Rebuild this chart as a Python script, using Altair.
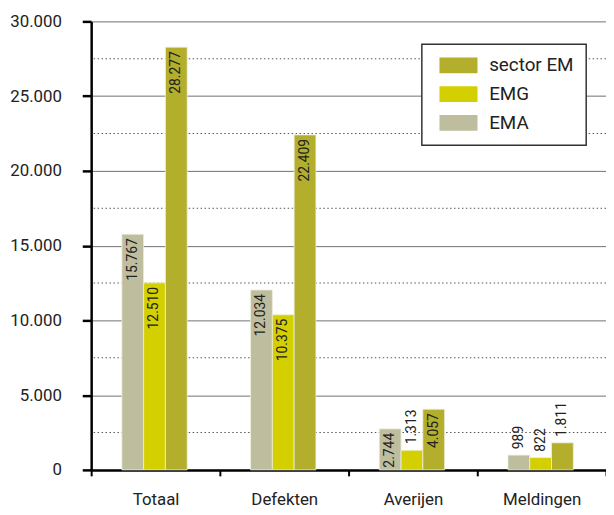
import altair as alt
import pandas as pd

categories = ["Totaal", "Defekten", "Averijen", "Meldingen"]
series = ["EMA", "EMG", "sector EM"]
ema = [15767, 12034, 2744, 989]
emg = [12510, 10375, 1313, 822]
sector_em = [28277, 22409, 4057, 1811]
y_ticks = [0, 5000, 10000, 15000, 20000, 25000, 30000]
minor_grid = [2500, 7500, 12500, 17500, 22500, 27500]
legend_order = ["sector EM", "EMG", "EMA"]
colors = ["#b3ae2c", "#d4cf00", "#bebe9f"]

rows = []
for s, vals in zip(series, [ema, emg, sector_em]):
    for c, v in zip(categories, vals):
        rows.append({"categorie": c, "reeks": s, "waarde": v,
                     "label": f"{v:,}".replace(",", ".")})
df = pd.DataFrame(rows)
grid_df = pd.DataFrame({"waarde": minor_grid})

FONT = "Roboto"
NBSP = "\u00a0"

x = alt.X("categorie:N", sort=categories, title=None,
          scale=alt.Scale(paddingInner=0, paddingOuter=0),
          axis=alt.Axis(tickBand="extent", labelAngle=0, labelFont=FONT,
                        labelFontSize=17, labelColor="#222", labelPadding=16,
                        tickSize=6, tickWidth=2, tickColor="black",
                        domainColor="black", domainWidth=2.5, grid=False))
xo = alt.XOffset("reeks:N", sort=series,
                 scale=alt.Scale(paddingInner=0, paddingOuter=0, range=[31, 97]))
y = alt.Y("waarde:Q", title=None,
          scale=alt.Scale(domain=[0, 30000], nice=False),
          axis=alt.Axis(values=y_ticks,
                        labelExpr="replace(format(datum.value, ','), ',', '.')",
                        labelFont=FONT, labelFontSize=17, labelColor="#222",
                        labelPadding=21, tickSize=9, tickWidth=2.5, tickColor="black",
                        domainColor="black", domainWidth=2.5,
                        grid=True, gridWidth=1, gridColor="#6f6f6f"))
color = alt.Color("reeks:N", sort=legend_order,
                  scale=alt.Scale(domain=legend_order, range=colors),
                  legend=alt.Legend(title=None, orient="none", legendX=334, legendY=23,
                                    direction="vertical", fillColor="white",
                                    strokeColor="#333", padding=12,
                                    symbolType="M-2.4,-1H2.4V1H-2.4Z", symbolSize=256,
                                    symbolOffset=15.5, labelOffset=21.5,
                                    symbolStrokeWidth=0,
                                    labelExpr=f"datum.label + '{NBSP}{NBSP}'",
                                    labelFont=FONT, labelFontSize=19, labelColor="#222",
                                    rowPadding=9))

minor = alt.Chart(grid_df).mark_rule(color="#555555", strokeWidth=1,
                                     strokeDash=[1.5, 2.5]).encode(
    y=alt.Y("waarde:Q"))

base = alt.Chart(df)
bars = base.mark_bar(stroke="#eeeedd", strokeWidth=0.8).encode(
    x=x, xOffset=xo, y=y, color=color)

inside = base.mark_text(angle=270, align="right", baseline="middle", dx=-4,
                        fontSize=14, font=FONT, color="#222").encode(
    x=alt.X("categorie:N", sort=categories), xOffset=alt.XOffset("reeks:N", sort=series),
    y=alt.Y("waarde:Q"), text="label:N").transform_filter("datum.waarde >= 2000")
outside = base.mark_text(angle=270, align="left", baseline="middle", dx=6,
                         fontSize=14, font=FONT, color="#222").encode(
    x=alt.X("categorie:N", sort=categories), xOffset=alt.XOffset("reeks:N", sort=series),
    y=alt.Y("waarde:Q"), text="label:N").transform_filter("datum.waarde < 2000")

chart = alt.layer(minor, bars, inside, outside).properties(
    width=520, height=453,
    autosize=alt.AutoSizeParams(type="none"),
    padding={"left": 84, "top": 11, "right": 0, "bottom": 40},
    background="white",
).configure_view(stroke=None).configure_legend(strokeWidth=1.5)

chart.save("out.html", embed_options={"renderer": "svg", "actions": False})
